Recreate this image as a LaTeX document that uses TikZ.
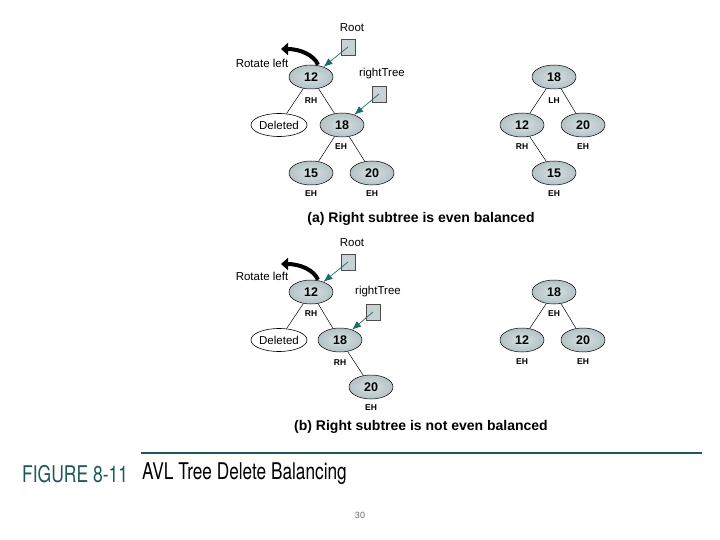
\documentclass[tikz,border=0pt]{standalone}
\usepackage{fontspec}
\usepackage{graphicx}
\setmainfont{Liberation Sans}
\newfontfamily\figfont{TeX Gyre Heros}
\usetikzlibrary{shapes.geometric,arrows.meta}
\definecolor{nodefill}{HTML}{B3C2C6}
\definecolor{nodein}{HTML}{D8E1E3}
\definecolor{boxfill}{HTML}{C6D2D4}
\definecolor{tealc}{HTML}{1D6A6B}
\definecolor{figteal}{HTML}{1F5859}
\tikzset{
  avl/.style={ellipse, draw=black, line width=0.5pt, inner color=nodein, outer color=nodefill,
    minimum width=44pt, minimum height=24pt, inner sep=0pt, font=\fontsize{12.5}{12.5}\selectfont\bfseries},
  delnode/.style={ellipse, draw=black, line width=0.6pt, fill=white,
    minimum width=44pt, minimum height=23pt, inner sep=0pt, font=\fontsize{11.5}{11.5}\selectfont},
  bal/.style={font=\fontsize{8.5}{8.5}\selectfont\bfseries, inner sep=0pt},
  ptrbox/.style={draw=black!70, fill=boxfill, minimum width=14pt, minimum height=16pt, inner sep=0pt, line width=0.5pt},
  lbl/.style={font=\fontsize{11.5}{11.5}\selectfont, inner sep=0pt},
  edge/.style={line width=0.5pt},
  ptr/.style={tealc, line width=0.7pt, -{Latex[length=9pt,width=7pt]}},
  rot/.style={line width=4pt, -{Triangle[length=7pt,width=12pt]}},
  captxt/.style={font=\fontsize{14}{14}\selectfont\bfseries, inner sep=0pt}
}
\begin{document}
\begin{tikzpicture}[x=1pt,y=-1pt]
\useasboundingbox (0,0) rectangle (720,540);
% ---------- (a) ----------
\node[lbl] (rootA) at (352,28) {Root};
\node[ptrbox] (rbA) at (348,47) {};
\node[lbl] (rotA) at (262,63) {Rotate left};
\node[avl] (a12) at (311,77) {12};
\node[bal] (a12b) at (311,101) {RH};
\node[lbl] (rtA) at (382,74) {rightTree};
\node[ptrbox] (rtbA) at (379,94) {};
\node[delnode] (adel) at (279,125) {Deleted};
\node[avl] (a18) at (342,125) {18};
\node[bal] (a18b) at (341,147) {EH};
\node[avl] (a15) at (311,173) {15};
\node[bal] (a15b) at (311,194) {EH};
\node[avl] (a20) at (372,173) {20};
\node[bal] (a20b) at (372,194) {EH};
\draw[edge] (a12) -- (adel);
\draw[edge] (a12) -- (a18);
\draw[edge] (a18) -- (a15);
\draw[edge] (a18) -- (a20);
\draw[ptr] (rbA.center) -- (a12);
\draw[ptr] (rtbA.center) -- (a18);
\coordinate (rotAend) at (281,49);
\draw[rot] ([xshift=7pt]a12.north) .. controls (314,55) and (300,49) .. (rotAend);
\node[avl] (ar18) at (554,77) {18};
\node[bal] (ar18b) at (554,101) {LH};
\node[avl] (ar12) at (522,125) {12};
\node[bal] (ar12b) at (522,147) {RH};
\node[avl] (ar20) at (583,125) {20};
\node[bal] (ar20b) at (583,147) {EH};
\node[avl] (ar15) at (554,173) {15};
\node[bal] (ar15b) at (554,194) {EH};
\draw[edge] (ar18) -- (ar12);
\draw[edge] (ar18) -- (ar20);
\draw[edge] (ar12) -- (ar15);
\node[captxt] (capA) at (421,219) {(a) Right subtree is even balanced};
% ---------- (b) ----------
\node[lbl] (rootB) at (352,243) {Root};
\node[ptrbox] (rbB) at (348,262) {};
\node[lbl] (rotB) at (262,276) {Rotate left};
\node[avl] (b12) at (311,292) {12};
\node[bal] (b12b) at (311,314) {RH};
\node[lbl] (rtB) at (378,292) {rightTree};
\node[ptrbox] (rtbB) at (373,312) {};
\node[delnode] (bdel) at (279,340) {Deleted};
\node[avl] (b18) at (340,340) {18};
\node[bal] (b18b) at (340,363) {RH};
\node[avl] (b20) at (371,387) {20};
\node[bal] (b20b) at (371,408) {EH};
\draw[edge] (b12) -- (bdel);
\draw[edge] (b12) -- (b18);
\draw[edge] (b18) -- (b20);
\draw[ptr] (rbB.center) -- (b12);
\draw[ptr] (rtbB.center) -- (b18);
\coordinate (rotBend) at (281,264);
\draw[rot] ([xshift=7pt]b12.north) .. controls (314,270) and (300,264) .. (rotBend);
\node[avl] (br18) at (554,292) {18};
\node[bal] (br18b) at (554,314) {EH};
\node[avl] (br12) at (522,340) {12};
\node[bal] (br12b) at (522,362) {EH};
\node[avl] (br20) at (583,340) {20};
\node[bal] (br20b) at (583,362) {EH};
\draw[edge] (br18) -- (br12);
\draw[edge] (br18) -- (br20);
\node[captxt] (capB) at (421,427) {(b) Right subtree is not even balanced};
% ---------- footer ----------
\coordinate (ruleL) at (141,453);
\coordinate (ruleR) at (702,453);
\draw[figteal, line width=2pt] (ruleL) -- (ruleR);
\node[anchor=west, inner sep=0pt, text=figteal] (fig) at (22,474) {\scalebox{0.76}[1]{\figfont\fontsize{23}{23}\selectfont FIGURE 8-11}};
\node[anchor=west, inner sep=0pt] (figt) at (142,474) {\scalebox{0.75}[1]{\figfont\fontsize{23}{23}\selectfont AVL Tree Delete Balancing}};
\node[inner sep=0pt, text=black!60, font=\fontsize{9}{9}\selectfont] (pg) at (360,515) {30};
\end{tikzpicture}
\end{document}
